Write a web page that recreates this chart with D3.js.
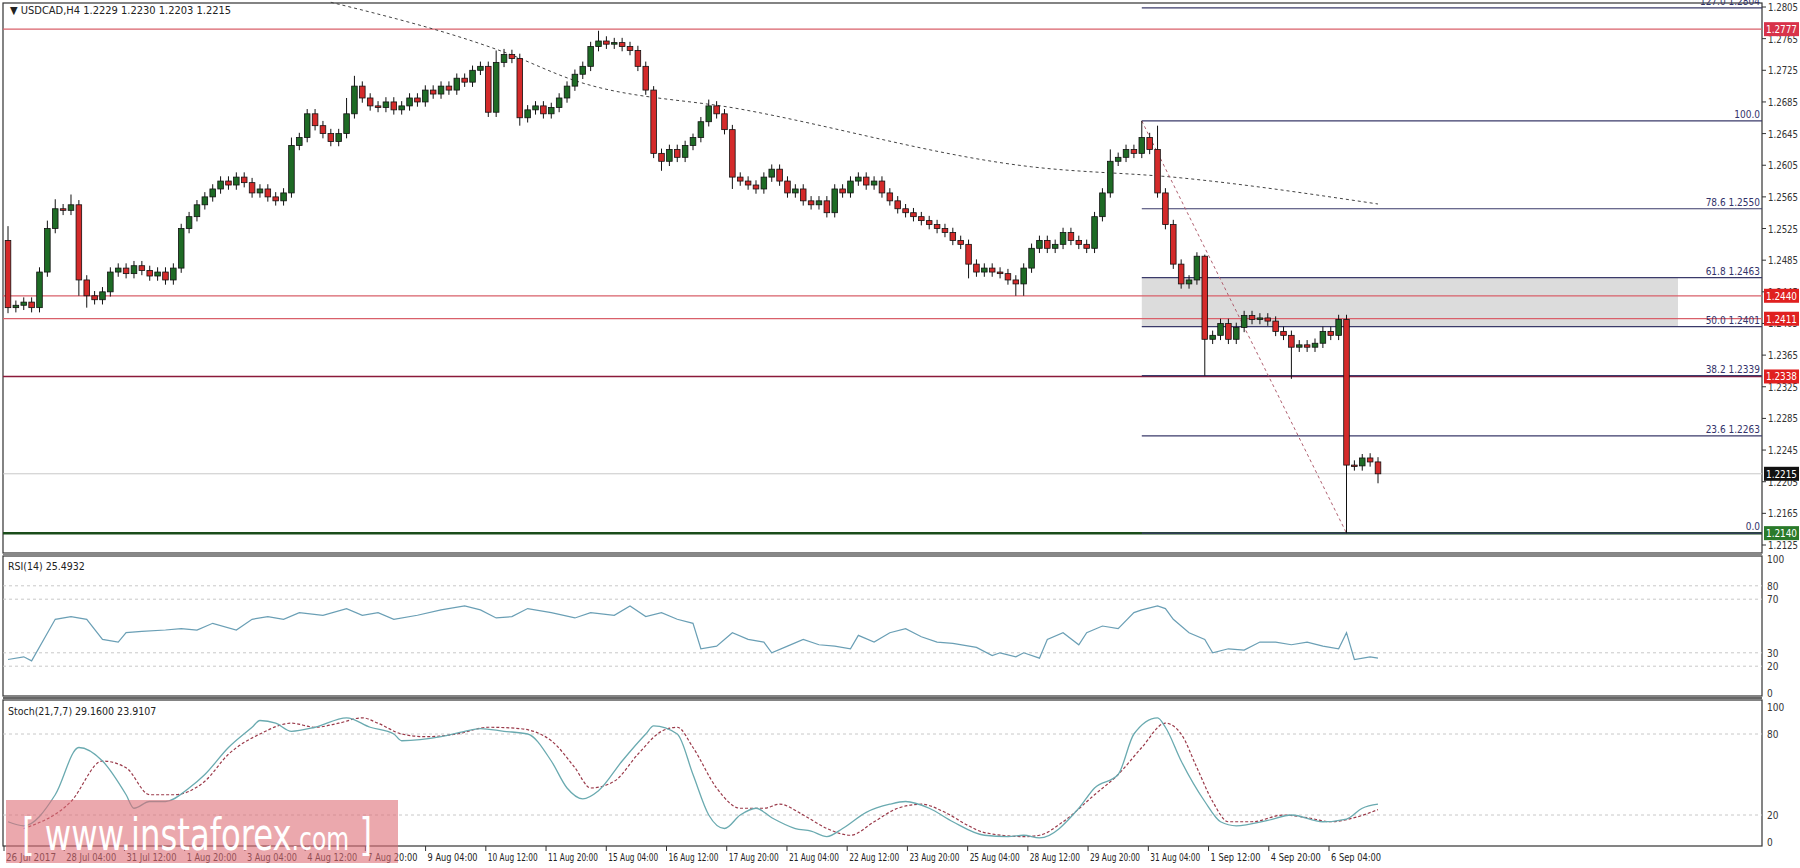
<!DOCTYPE html>
<html><head><meta charset="utf-8">
<script src="https://cdn.jsdelivr.net/npm/d3@7"></script>
<style>body{margin:0;background:#fff}svg{display:block}text{font-family:"DejaVu Sans Condensed","Liberation Sans",sans-serif}</style>
</head><body><svg id="c" width="1800" height="868"></svg>
<script>
const closes=[1.2425,1.2428,1.2432,1.2425,1.2470,1.2525,1.2550,1.2548,1.2555,1.2460,
1.2440,1.2435,1.2445,1.2470,1.2475,1.2468,1.2478,1.2472,1.2465,1.2470,
1.2460,1.2475,1.2525,1.2540,1.2555,1.2565,1.2575,1.2585,1.2580,1.2590,
1.2583,1.2570,1.2575,1.2565,1.2560,1.2570,1.2630,1.2640,1.2670,1.2655,
1.2645,1.2635,1.2645,1.2670,1.2705,1.2690,1.2680,1.2678,1.2685,1.2675,
1.2680,1.2690,1.2685,1.2700,1.2695,1.2705,1.2700,1.2715,1.2710,1.2725,
1.2730,1.2672,1.2735,1.2745,1.2740,1.2665,1.2675,1.2680,1.2670,1.2678,
1.2690,1.2705,1.2720,1.2730,1.2755,1.2762,1.2758,1.2760,1.2755,1.2750,
1.2730,1.2700,1.2620,1.2610,1.2625,1.2615,1.2630,1.2640,1.2660,1.2680,
1.2670,1.2650,1.2590,1.2585,1.2580,1.2575,1.2590,1.2600,1.2585,1.2570,
1.2575,1.2560,1.2555,1.2560,1.2545,1.2575,1.2570,1.2585,1.2590,1.2580,
1.2585,1.2570,1.2560,1.2550,1.2545,1.2540,1.2535,1.2530,1.2525,1.2520,
1.2510,1.2505,1.2480,1.2470,1.2475,1.2470,1.2468,1.2460,1.2455,1.2475,
1.2500,1.2510,1.2500,1.2505,1.2520,1.2510,1.2505,1.2500,1.2540,1.2570,
1.2610,1.2615,1.2625,1.2620,1.2640,1.2625,1.2570,1.2530,1.2480,1.2455,
1.2460,1.2490,1.2385,1.2390,1.2405,1.2385,1.2400,1.2415,1.2410,1.2412,
1.2408,1.2395,1.2390,1.2375,1.2378,1.2375,1.2380,1.2395,1.2390,1.2410,
1.2226,1.2225,1.2235,1.2230,1.2215];
const firstOpen=1.2510;
const highOverrides={0:1.2528,5:1.2535,6:1.2562,8:1.2568,36:1.2640,43:1.2690,44:1.2718,62:1.2750,63:1.2752,75:1.2775,82:1.2705,87:1.2645,89:1.2688,140:1.2625,144:1.2661,146:1.2655,151:1.2495,152:1.2492,169:1.2416,170:1.2416,172:1.2240};
const lowOverrides={0:1.2418,9:1.2440,10:1.2425,65:1.2655,83:1.2598,92:1.2575,122:1.2462,128:1.2440,129:1.2440,152:1.2339,163:1.2335,170:1.2140,174:1.2203};
const rsiPts=[[0,25],[2,27],[3,24],[6,55],[8,57],[10,55],[12,40],[14,38],[15,45],[17,46],[20,47],[22,48],[24,47],[26,52],[29,47],[31,55],[33,57],[35,55],[37,60],[40,58],[43,63],[45,58],[47,60],[49,55],[52,58],[55,62],[58,65],[60,62],[62,56],[64,57],[66,63],[69,60],[72,56],[74,60],[77,58],[79,65],[81,57],[83,60],[85,55],[87,52],[88,33],[90,35],[92,45],[94,40],[96,38],[97,30],[99,35],[101,40],[103,36],[105,35],[107,33],[108,43],[110,38],[112,45],[114,48],[116,42],[118,38],[120,37],[123,34],[125,28],[126,30],[128,27],[129,30],[131,26],[132,40],[134,45],[136,36],[137,45],[139,50],[141,48],[143,60],[144,62],[146,65],[147,63],[148,55],[150,45],[152,40],[153,30],[155,33],[157,32],[159,38],[161,38],[163,36],[165,38],[167,35],[169,33],[170,45],[171,25],[173,27],[174,26]];
const stochMain=[[0,15],[2,12],[6,35],[9,70],[12,60],[15,35],[16,25],[18,30],[20,30],[23,40],[25,50],[28,70],[31,85],[32,90],[34,88],[36,82],[39,85],[43,92],[46,85],[49,80],[50,75],[55,78],[58,82],[60,84],[63,82],[66,80],[69,60],[71,40],[73,32],[75,38],[78,60],[81,80],[82,86],[85,80],[87,50],[89,20],[91,10],[93,20],[95,25],[97,18],[100,10],[102,8],[104,4],[106,10],[109,22],[112,28],[114,30],[117,25],[120,15],[124,5],[127,4],[129,5],[131,3],[136,25],[138,40],[141,50],[143,80],[146,92],[147,85],[149,60],[152,30],[154,15],[156,12],[160,16],[163,20],[167,15],[170,17],[172,25],[174,28]];
const stochSignal=[[2,10],[8,30],[12,60],[15,55],[18,35],[21,35],[25,45],[28,65],[32,80],[36,88],[39,85],[42,88],[45,92],[47,88],[50,80],[53,78],[57,80],[61,85],[65,84],[69,75],[72,55],[74,40],[77,45],[80,65],[83,82],[85,85],[87,70],[90,40],[93,25],[96,25],[98,28],[101,20],[104,10],[107,5],[110,15],[113,25],[116,28],[119,22],[122,12],[124,7],[129,4],[131,5],[134,15],[138,35],[141,50],[144,70],[147,88],[149,80],[151,55],[153,30],[155,15],[158,15],[162,20],[165,18],[168,15],[171,18],[174,24]];
const trendPts=[[41,1.2811],[63,1.2748],[72,1.2712],[93,1.2676],[130,1.2603],[149,1.2589],[174,1.2556]];
const fibHigh={i:144,p:1.2661}, fibLow={i:170,p:1.2140};
const fibLevels=[[127.0,1.2804],[100.0,1.2661],[78.6,1.2550],[61.8,1.2463],[50.0,1.2401],[38.2,1.2339],[23.6,1.2263],[0.0,1.2140]];
const redLevels=[1.2777,1.2440,1.2411,1.2338];
const priceTicks=d3.range(0,18).map(k=>+(1.2805-0.004*k).toFixed(4));
const timeLabels=["26 Jul 2017","28 Jul 04:00","31 Jul 12:00","1 Aug 20:00","3 Aug 04:00","4 Aug 12:00","7 Aug 20:00","9 Aug 04:00","10 Aug 12:00","11 Aug 20:00","15 Aug 04:00","16 Aug 12:00","17 Aug 20:00","21 Aug 04:00","22 Aug 12:00","23 Aug 20:00","25 Aug 04:00","28 Aug 12:00","29 Aug 20:00","31 Aug 04:00","1 Sep 12:00","4 Sep 20:00","6 Sep 04:00"];

const svg=d3.select("#c");
const L=3,R=1762;
const x=d3.scaleLinear().domain([0,174]).range([8,1378]);
const xl=d3.scaleLinear().domain([0,22]).range([4,1329]);
const y=d3.scaleLinear().domain([1.2125,1.2805]).range([545,7]);
const yr=d3.scaleLinear().domain([0,100]).range([693,559]);
const ys=d3.scaleLinear().domain([0,100]).range([842,707]);
function lbl(sel,w){return sel.attr("textLength",w).attr("lengthAdjust","spacingAndGlyphs");}
[[3,553],[556,696],[700,846]].forEach(([t,b])=>svg.append("rect").attr("x",L).attr("y",t).attr("width",R-L).attr("height",b-t).attr("fill","none").attr("stroke","#333").attr("stroke-width",1.2));
svg.append("line").attr("x1",L).attr("x2",R).attr("y1",554.5).attr("y2",554.5).attr("stroke","#888").attr("stroke-width",3);
svg.append("line").attr("x1",L).attr("x2",R).attr("y1",698).attr("y2",698).attr("stroke","#666").attr("stroke-width",2);
const g=svg.append("g");
g.append("rect").attr("x",x(fibHigh.i)).attr("width",1678-x(fibHigh.i)).attr("y",y(1.2463)).attr("height",y(1.2401)-y(1.2463)).attr("fill","#dcdcdc");
g.append("line").attr("x1",L).attr("x2",R).attr("y1",y(1.2215)).attr("y2",y(1.2215)).attr("stroke","#c8c8c8");
redLevels.forEach(p=>g.append("line").attr("x1",L).attr("x2",R).attr("y1",y(p)).attr("y2",y(p)).attr("stroke",p===1.2338?"#8b1a3a":"#d9606a").attr("stroke-width",1.3));
g.append("line").attr("x1",L).attr("x2",R).attr("y1",y(1.2140)).attr("y2",y(1.2140)).attr("stroke","#1a4d1a").attr("stroke-width",2.5);
fibLevels.forEach(([lv,p])=>{
 g.append("line").attr("x1",x(fibHigh.i)).attr("x2",R).attr("y1",y(p)).attr("y2",y(p)).attr("stroke","#3a3a6a").attr("stroke-width",1.2);
 const t=lv===100||lv===0?lv.toFixed(1):lv.toFixed(1)+" "+p.toFixed(4);
 g.append("text").attr("x",R-2).attr("y",y(p)-3).attr("text-anchor","end").attr("font-size",10).attr("fill","#33336a").text(t);
});
g.append("path").attr("d",d3.line().x(d=>x(d[0])).y(d=>y(d[1])).curve(d3.curveMonotoneX)(trendPts)).attr("fill","none").attr("stroke","#444").attr("stroke-dasharray","3,3");
g.append("line").attr("x1",x(fibHigh.i)).attr("y1",y(fibHigh.p)).attr("x2",x(fibLow.i)).attr("y2",y(fibLow.p)).attr("stroke","#b06070").attr("stroke-dasharray","3,3");
closes.forEach((c,i)=>{
 const o=i===0?firstOpen:closes[i-1];
 const hi=highOverrides[i]!==undefined?highOverrides[i]:Math.max(o,c)+0.0006;
 const lo=lowOverrides[i]!==undefined?lowOverrides[i]:Math.min(o,c)-0.0006;
 const cx=x(i);
 g.append("line").attr("x1",cx).attr("x2",cx).attr("y1",y(hi)).attr("y2",y(lo)).attr("stroke","#111");
 const top=y(Math.max(o,c)),bot=y(Math.min(o,c));
 g.append("rect").attr("x",cx-2.8).attr("width",5.6).attr("y",top).attr("height",Math.max(1.5,bot-top)).attr("fill",c>=o?"#1e6b25":"#d42a2a").attr("stroke","#111").attr("stroke-width",0.8);
});
priceTicks.forEach(p=>{svg.append("line").attr("x1",R).attr("x2",R+4).attr("y1",y(p)).attr("y2",y(p)).attr("stroke","#333");
 lbl(svg.append("text").attr("x",R+6).attr("y",y(p)+4).attr("font-size",10).attr("fill","#333").text(p.toFixed(4)),30);});
[[1.2777,"#d8324a"],[1.2440,"#e02020"],[1.2411,"#e02020"],[1.2338,"#e02020"],[1.2215,"#111"],[1.2140,"#2a7a2a"]].forEach(([p,col])=>{
 svg.append("rect").attr("x",R+2).attr("y",y(p)-7).attr("width",35).attr("height",14).attr("fill",col);
 lbl(svg.append("text").attr("x",R+4).attr("y",y(p)+4).attr("font-size",10.5).attr("fill","#fff").text(p.toFixed(4)),31);});
svg.append("text").attr("x",10).attr("y",14).attr("font-size",11).attr("fill","#222").text("▼  USDCAD,H4  1.2229 1.2230 1.2203 1.2215");
[80,70,30,20].forEach(v=>svg.append("line").attr("x1",L).attr("x2",R).attr("y1",yr(v)).attr("y2",yr(v)).attr("stroke","#c8c8c8").attr("stroke-dasharray","3,3"));
[[100,"100"],[80,"80"],[70,"70"],[30,"30"],[20,"20"],[0,"0"]].forEach(([v,t])=>svg.append("text").attr("x",R+5).attr("y",yr(v)+4).attr("font-size",10).attr("fill","#333").text(t));
svg.append("path").attr("d",d3.line().x(d=>x(d[0])).y(d=>yr(d[1]))(rsiPts)).attr("fill","none").attr("stroke","#6a9fb5").attr("stroke-width",1.2);
svg.append("text").attr("x",8).attr("y",570).attr("font-size",10.5).attr("fill","#222").text("RSI(14) 25.4932");
[80,20].forEach(v=>svg.append("line").attr("x1",L).attr("x2",R).attr("y1",ys(v)).attr("y2",ys(v)).attr("stroke","#c8c8c8").attr("stroke-dasharray","3,3"));
[[100,"100"],[80,"80"],[20,"20"],[0,"0"]].forEach(([v,t])=>svg.append("text").attr("x",R+5).attr("y",ys(v)+4).attr("font-size",10).attr("fill","#333").text(t));
svg.append("path").attr("d",d3.line().x(d=>x(d[0])).y(d=>ys(d[1])).curve(d3.curveMonotoneX)(stochSignal)).attr("fill","none").attr("stroke","#9a3a4a").attr("stroke-width",1.2).attr("stroke-dasharray","3,2");
svg.append("path").attr("d",d3.line().x(d=>x(d[0])).y(d=>ys(d[1])).curve(d3.curveMonotoneX)(stochMain)).attr("fill","none").attr("stroke","#6aaab0").attr("stroke-width",1.3);
svg.append("text").attr("x",8).attr("y",715).attr("font-size",10.5).attr("fill","#222").text("Stoch(21,7,7) 29.1600 23.9107");
timeLabels.forEach((t,k)=>{const xx=xl(k);
 svg.append("line").attr("x1",xx).attr("x2",xx).attr("y1",846).attr("y2",851).attr("stroke","#333");
 lbl(svg.append("text").attr("x",xx+2).attr("y",861).attr("font-size",10).attr("fill","#222").text(t),t.length>10?50:44);});
svg.append("rect").attr("x",6).attr("y",800).attr("width",392).attr("height",63).attr("fill","rgba(222,110,118,0.6)");
lbl(svg.append("text").attr("x",22).attr("y",850).attr("font-size",44).attr("fill","#fff").attr("font-family","Liberation Sans").html('[  www.instaforex<tspan font-size="32">.com</tspan> ]'),350);
</script></body></html>
